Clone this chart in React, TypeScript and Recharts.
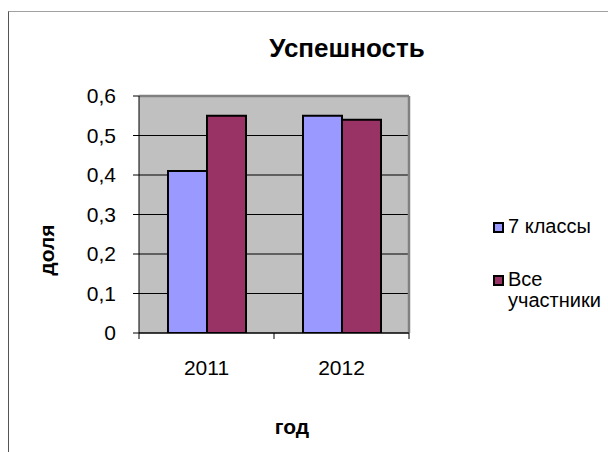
import React from 'react';
import { BarChart, Bar, XAxis, YAxis, CartesianGrid } from 'recharts';

const years = ['2011', '2012'];
const grade7 = [0.41, 0.55];
const allParticipants = [0.55, 0.54];
const yTicks = [0, 0.1, 0.2, 0.3, 0.4, 0.5, 0.6];
const seriesNames = ['7 классы', 'Все участники'];
const seriesColors = ['#9999FF', '#993366'];
const chartTitle = 'Успешность';
const xTitle = 'год';
const yTitle = 'доля';

const data = years.map((y, i) => ({ year: y, g7: grade7[i], all: allParticipants[i] }));

const FONT = '"Liberation Sans", Arial, sans-serif';
const X_TICK_SIZE = 6;
const X_TICK_MARGIN = 21;

const fmt = (v: number) => (v === 0 ? '0' : v.toFixed(1).replace('.', ','));

const XTick = (props: any) => {
  const { x, y, payload, index, visibleTicksCount } = props;
  const half = payload && payload.offset ? payload.offset : 0;
  const axisY = y - X_TICK_SIZE - X_TICK_MARGIN;
  const isLast = index === (visibleTicksCount ?? years.length) - 1;
  return (
    <g>
      <line x1={x - half} x2={x - half} y1={axisY} y2={axisY + X_TICK_SIZE} stroke="#000" />
      {isLast && <line x1={x + half} x2={x + half} y1={axisY} y2={axisY + X_TICK_SIZE} stroke="#000" />}
      <text x={x} y={y} dy="0.71em" textAnchor="middle" fontSize={21} fontFamily={FONT} fill="#000">
        {payload.value}
      </text>
    </g>
  );
};

export default function App() {
  return (
    <div style={{ position: 'absolute', left: 0, top: 0, width: 608, height: 452, background: '#fff', fontFamily: FONT, overflow: 'hidden' }}>
      <div style={{ position: 'absolute', left: 8, top: 11, width: 620, height: 460, borderTop: '1px solid #a0a0a0', borderLeft: '1px solid #555' }} />
      <div style={{ position: 'absolute', left: 0, top: 0 }}>
        <BarChart
          width={608}
          height={452}
          data={data}
          margin={{ top: 96, right: 199, bottom: 79, left: 0 }}
          barGap={0}
          barSize={39}
        >
          <CartesianGrid vertical={false} stroke="#000" fill="#C0C0C0" fillOpacity={1} />
          <CartesianGrid
            stroke="#808080"
            strokeWidth={2.5}
            horizontalCoordinatesGenerator={({ offset }: any) => [offset.top]}
            verticalCoordinatesGenerator={({ offset }: any) => [offset.left + offset.width]}
          />
          <XAxis
            dataKey="year"
            tickLine={false}
            axisLine={{ stroke: '#000' }}
            height={40}
            tickSize={X_TICK_SIZE}
            tickMargin={X_TICK_MARGIN}
            tick={<XTick />}
          />
          <YAxis
            width={139}
            domain={[0, 0.6]}
            ticks={yTicks}
            tickFormatter={fmt}
            tickSize={6}
            tickMargin={17}
            tickLine={{ stroke: '#000' }}
            axisLine={{ stroke: '#000' }}
            tick={{ fill: '#000', fontSize: 21, fontFamily: FONT }}
            allowDataOverflow
          />
          <Bar dataKey="g7" name={seriesNames[0]} fill={seriesColors[0]} stroke="#000" strokeWidth={2} isAnimationActive={false} />
          <Bar dataKey="all" name={seriesNames[1]} fill={seriesColors[1]} stroke="#000" strokeWidth={2} isAnimationActive={false} />
        </BarChart>
      </div>
      <svg width={608} height={452} style={{ position: 'absolute', left: 0, top: 0, pointerEvents: 'none' }}>
        <text x={347} y={57} textAnchor="middle" fontSize={26} fontWeight="bold" fontFamily={FONT} fill="#000">{chartTitle}</text>
        <text x={292} y={434} textAnchor="middle" fontSize={21} fontWeight="bold" fontFamily={FONT} fill="#000">{xTitle}</text>
        <text x={54} y={250} textAnchor="middle" fontSize={21} fontWeight="bold" fontFamily={FONT} fill="#000" transform="rotate(-90 54 250)">{yTitle}</text>
      </svg>
      <div style={{ position: 'absolute', left: 493, top: 216, width: 115, fontSize: 20, lineHeight: '21px', color: '#000' }}>
        {seriesNames.map((n, i) => (
          <div key={n} style={{ position: 'relative', paddingLeft: 15, marginBottom: i === 0 ? 32 : 0 }}>
            <span style={{ position: 'absolute', left: 0, top: 6, width: 7, height: 7, background: seriesColors[i], border: '2px solid #000' }} />
            {n}
          </div>
        ))}
      </div>
    </div>
  );
}
